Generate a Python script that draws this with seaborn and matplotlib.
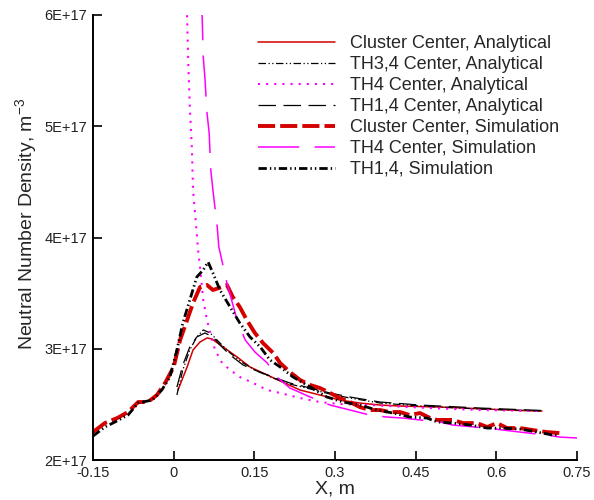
import numpy as np
import pandas as pd
import matplotlib
matplotlib.use("Agg")
import matplotlib.pyplot as plt
import seaborn as sns
from matplotlib.ticker import MultipleLocator

# ---------------- data (x in m, y in units of 1E+17 m^-3) ----------------
cc_an_x = [0.008, 0.025, 0.036, 0.049, 0.062, 0.071, 0.092, 0.118, 0.142, 0.174,
           0.198, 0.235, 0.272, 0.309, 0.346, 0.384, 0.421, 0.495, 0.583, 0.644, 0.685]
cc_an_y = [2.629, 2.836, 2.989, 3.061, 3.097, 3.088, 3.016, 2.926, 2.836, 2.764,
           2.710, 2.629, 2.584, 2.539, 2.512, 2.494, 2.485, 2.476, 2.458, 2.445, 2.440]

th34_an_x = [0.006, 0.017, 0.030, 0.043, 0.055, 0.068, 0.086, 0.105, 0.129, 0.155,
             0.185, 0.216, 0.254, 0.291, 0.328, 0.384, 0.458, 0.570, 0.685]
th34_an_y = [2.584, 2.809, 2.989, 3.106, 3.169, 3.142, 3.052, 2.962, 2.872, 2.800,
             2.737, 2.683, 2.638, 2.593, 2.557, 2.512, 2.485, 2.458, 2.440]

th4_an_x = [0.022, 0.025, 0.027, 0.030, 0.034, 0.036, 0.042, 0.045, 0.049, 0.055,
            0.062, 0.068, 0.077, 0.090, 0.105, 0.123, 0.148, 0.174, 0.198, 0.235,
            0.272, 0.309, 0.365, 0.421, 0.477, 0.570, 0.685]
th4_an_y = [6.300, 5.982, 5.595, 5.173, 4.787, 4.427, 4.094, 3.906, 3.735, 3.438,
            3.258, 3.142, 2.989, 2.872, 2.809, 2.746, 2.692, 2.629, 2.602, 2.557,
            2.521, 2.503, 2.494, 2.480, 2.467, 2.449, 2.440]

th14_an_x = [0.006, 0.017, 0.030, 0.043, 0.058, 0.073, 0.086, 0.105, 0.129, 0.155,
             0.185, 0.216, 0.254, 0.291, 0.328, 0.384, 0.458, 0.570, 0.685]
th14_an_y = [2.655, 2.854, 3.016, 3.106, 3.142, 3.106, 3.034, 2.944, 2.854, 2.800,
             2.746, 2.692, 2.647, 2.602, 2.566, 2.521, 2.494, 2.467, 2.445]

cc_sim_x = [-0.150, -0.128, -0.105, -0.085, -0.066, -0.048, -0.031, -0.016, 0.000, 0.012,
            0.025, 0.036, 0.049, 0.062, 0.073, 0.090, 0.099, 0.110, 0.123, 0.136,
            0.151, 0.166, 0.185, 0.198, 0.216, 0.235, 0.254, 0.272, 0.291, 0.309,
            0.328, 0.346, 0.365, 0.384, 0.402, 0.421, 0.439, 0.458, 0.477, 0.490,
            0.519, 0.538, 0.564, 0.583, 0.601, 0.620, 0.644, 0.668, 0.694, 0.718]
cc_sim_y = [2.251, 2.332, 2.377, 2.431, 2.521, 2.521, 2.584, 2.692, 2.836, 3.079,
            3.258, 3.411, 3.555, 3.573, 3.528, 3.555, 3.573, 3.465, 3.375, 3.258,
            3.142, 3.052, 2.962, 2.872, 2.791, 2.719, 2.674, 2.647, 2.602, 2.557,
            2.521, 2.476, 2.449, 2.449, 2.431, 2.431, 2.404, 2.422, 2.377, 2.360,
            2.360, 2.332, 2.332, 2.296, 2.332, 2.287, 2.287, 2.269, 2.251, 2.242]

th4_sim_x = [0.051, 0.053, 0.055, 0.058, 0.062, 0.066, 0.069, 0.073, 0.081, 0.084,
             0.099, 0.118, 0.133, 0.151, 0.174, 0.192, 0.216, 0.254, 0.291, 0.328,
             0.365, 0.397, 0.426, 0.458, 0.495, 0.519, 0.583, 0.644, 0.694, 0.718, 0.750]
th4_sim_y = [6.200, 5.982, 5.622, 5.443, 5.119, 4.939, 4.607, 4.427, 4.094, 3.915,
             3.591, 3.258, 3.079, 2.971, 2.872, 2.746, 2.647, 2.566, 2.494, 2.449,
             2.404, 2.386, 2.377, 2.360, 2.342, 2.314, 2.287, 2.251, 2.224, 2.206, 2.198]

th14_sim_x = [-0.150, -0.128, -0.109, -0.085, -0.066, -0.040, -0.022, -0.007, 0.006, 0.017,
              0.030, 0.043, 0.055, 0.064, 0.073, 0.086, 0.105, 0.123, 0.142, 0.161,
              0.179, 0.198, 0.222, 0.254, 0.285, 0.315, 0.346, 0.378, 0.408, 0.439,
              0.471, 0.490, 0.519, 0.551, 0.583, 0.612, 0.644, 0.676, 0.705, 0.715]
th14_sim_y = [2.215, 2.296, 2.342, 2.404, 2.512, 2.539, 2.629, 2.746, 2.989, 3.231,
              3.438, 3.645, 3.708, 3.780, 3.681, 3.528, 3.375, 3.231, 3.106, 3.016,
              2.899, 2.836, 2.746, 2.656, 2.566, 2.521, 2.494, 2.449, 2.422, 2.386,
              2.377, 2.342, 2.332, 2.314, 2.287, 2.287, 2.278, 2.251, 2.224, 2.224]

labels = ["Cluster Center, Analytical", "TH3,4 Center, Analytical",
          "TH4 Center, Analytical", "TH1,4 Center, Analytical",
          "Cluster Center, Simulation", "TH4 Center, Simulation",
          "TH1,4, Simulation"]

x_ticks = [-0.15, 0, 0.15, 0.3, 0.45, 0.6, 0.75]
x_tick_labels = ["-0.15", "0", "0.15", "0.3", "0.45", "0.6", "0.75"]
y_ticks = [2, 3, 4, 5, 6]
y_tick_labels = ["2E+17", "3E+17", "4E+17", "5E+17", "6E+17"]

SCALE = 1e17

# ---------------- styling ----------------
sns.set_theme(style="white")
plt.rcParams["font.family"] = ["Liberation Sans", "DejaVu Sans"]
plt.rcParams["mathtext.default"] = "regular"

RED = "#d40000"
MAG = "#ff00ff"
BLK = "#000000"

series = [
    (cc_an_x, cc_an_y, RED, 1.1, None),
    (th34_an_x, th34_an_y, BLK, 0.9, (6, 2, 1, 2, 1, 2)),
    (th4_an_x, th4_an_y, MAG, 1.5, (1, 2.9)),
    (th14_an_x, th14_an_y, BLK, 0.9, (14, 6)),
    (cc_sim_x, cc_sim_y, RED, 2.8, (4.4, 1.3)),
    (th4_sim_x, th4_sim_y, MAG, 1.1, (27, 10)),
    (th14_sim_x, th14_sim_y, BLK, 2.0, (3, 1.1, 0.5, 1.1, 0.5, 1.1)),
]

fig = plt.figure(figsize=(5.94, 5.0), dpi=100)
ax = fig.add_axes([93 / 594, 40 / 500, 484 / 594, 445 / 500])

for (xs, ys, col, lw, dash), lab in zip(series, labels):
    df = pd.DataFrame({"x": xs, "y": np.array(ys) * SCALE})
    sns.lineplot(data=df, x="x", y="y", ax=ax, color=col, linewidth=lw,
                 sort=False, estimator=None, label=lab)
    line = ax.lines[-1]
    if dash is not None:
        line.set_dashes(dash)

ax.set_xlim(-0.15, 0.75)
ax.set_ylim(2 * SCALE, 6 * SCALE)
ax.set_xticks(x_ticks)
ax.set_xticklabels(x_tick_labels)
ax.set_yticks([v * SCALE for v in y_ticks])
ax.set_yticklabels(y_tick_labels)
ax.xaxis.set_minor_locator(MultipleLocator(0.03))
ax.yaxis.set_minor_locator(MultipleLocator(0.2 * SCALE))

for s in ["top", "right"]:
    ax.spines[s].set_visible(False)
for s in ["left", "bottom"]:
    ax.spines[s].set_color("black")
    ax.spines[s].set_linewidth(1.4)

ax.tick_params(which="major", direction="in", length=6.5, width=1.2,
               labelsize=10.5, colors="black", labelcolor="#222222", pad=4)
ax.tick_params(which="minor", direction="in", length=3.5, width=1.0, colors="black")
ax.tick_params(left=True, bottom=True)

ax.set_xlabel("X, m", fontsize=14, labelpad=1)
ax.set_ylabel(r"Neutral Number Density, m$^{-3}$", fontsize=14, labelpad=1)
ax.yaxis.set_label_coords(-0.112, 0.53)
ax.grid(False)

leg = ax.legend(loc="upper left", bbox_to_anchor=((258 - 93) / 484, (460 - 35) / 445),
                frameon=False, fontsize=13, handlelength=4.25, handletextpad=0.83,
                labelspacing=0.22, borderpad=0, borderaxespad=0)

fig.savefig("out.png", dpi=100)
